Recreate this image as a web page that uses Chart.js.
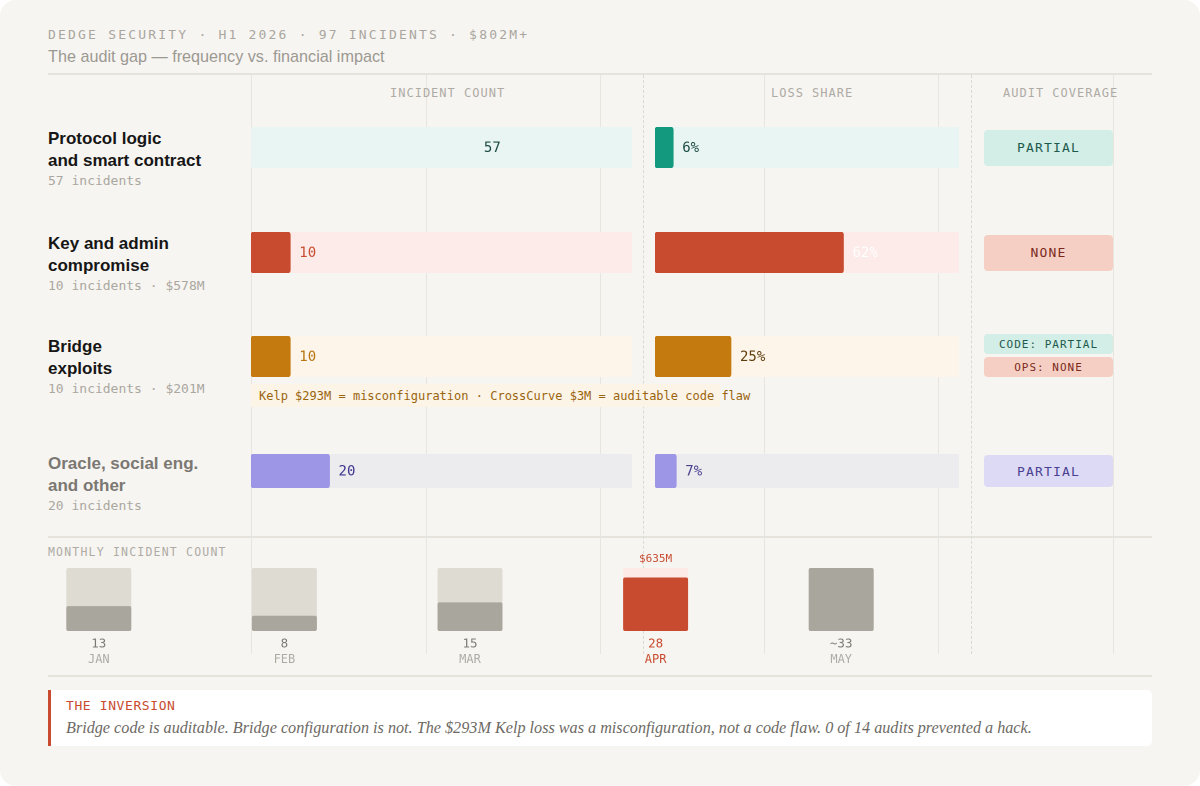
<!DOCTYPE html>
<html>
<head>
<meta charset="utf-8">
<script src="https://cdn.jsdelivr.net/npm/chart.js@4.4.1/dist/chart.umd.min.js"></script>
<style>
  html,body{margin:0;padding:0;background:#ffffff;width:1200px;height:786px;overflow:hidden;}
  #card{position:absolute;left:0;top:0;width:1200px;height:786px;background:#f7f5f1;border-radius:16px;overflow:hidden;}
  .abs{position:absolute;}
  .mono{font-family:"DejaVu Sans Mono",monospace;}
  .sans{font-family:"Liberation Sans",Arial,sans-serif;}
  .hline{position:absolute;height:2px;background:#e6e3dd;}
  .vline{position:absolute;width:1px;background:#e8e5df;}
  .vdash{position:absolute;width:0;border-left:1px dashed #dcd9d3;}
  .rowlab{position:absolute;left:48px;font-family:"Liberation Sans",Arial,sans-serif;font-weight:bold;font-size:17px;line-height:22px;color:#161616;white-space:nowrap;}
  .rowsub{position:absolute;left:48px;font-family:"DejaVu Sans Mono",monospace;font-size:13px;line-height:16px;color:#aaa79f;white-space:nowrap;}
  .colhead{position:absolute;top:86px;font-family:"DejaVu Sans Mono",monospace;font-size:12px;letter-spacing:1px;color:#aeaba5;white-space:nowrap;}
  .badge{position:absolute;left:984px;width:129px;border-radius:4px;display:flex;align-items:center;justify-content:center;font-family:"DejaVu Sans Mono",monospace;letter-spacing:1.2px;}
  canvas{position:absolute;}
</style>
</head>
<body>
<div id="card">
  <div class="abs mono" style="left:48px;top:27px;font-size:13px;letter-spacing:2.2px;color:#a9a6a0;white-space:nowrap;">DEDGE SECURITY · H1 2026 · 97 INCIDENTS · $802M+</div>
  <div class="abs sans" style="left:48px;top:47px;font-size:16.2px;color:#9c9993;white-space:nowrap;">The audit gap — frequency vs. financial impact</div>

  <div class="hline" style="left:48px;top:73px;width:1104px;"></div>
  <div class="hline" style="left:48px;top:536px;width:1104px;"></div>
  <div class="hline" style="left:48px;top:675px;width:1104px;"></div>

  <div class="vline" style="left:251px;top:75px;height:579px;"></div>
  <div class="vline" style="left:426px;top:75px;height:579px;"></div>
  <div class="vline" style="left:600px;top:75px;height:579px;"></div>
  <div class="vline" style="left:764px;top:75px;height:579px;"></div>
  <div class="vline" style="left:938px;top:75px;height:579px;"></div>
  <div class="vline" style="left:1113px;top:75px;height:579px;"></div>
  <div class="vdash" style="left:643px;top:75px;height:579px;"></div>
  <div class="vdash" style="left:971px;top:75px;height:579px;"></div>

  <div class="colhead" style="left:390px;">INCIDENT COUNT</div>
  <div class="colhead" style="left:771px;">LOSS SHARE</div>
  <div class="colhead" style="left:1003px;">AUDIT COVERAGE</div>

  <div id="rows"></div>

  <div class="abs" style="left:251px;top:384px;width:469px;height:23px;background:#fcf4e6;"></div>
  <div class="abs mono" style="left:259px;top:388px;font-size:12px;line-height:16px;color:#9a640f;white-space:nowrap;">Kelp $293M = misconfiguration · CrossCurve $3M = auditable code flaw</div>

  <div class="abs mono" style="left:48px;top:545px;font-size:11.5px;letter-spacing:1.2px;color:#aeaba5;white-space:nowrap;">MONTHLY INCIDENT COUNT</div>

  <div class="abs" style="left:48px;top:690px;width:1104px;height:56px;background:#ffffff;border-radius:5px;"></div>
  <div class="abs" style="left:48px;top:690px;width:3px;height:56px;background:#c84b2f;"></div>
  <div class="abs mono" style="left:66px;top:698px;font-size:13px;letter-spacing:0.6px;color:#c84b2f;white-space:nowrap;">THE INVERSION</div>
  <div class="abs" style="left:66px;top:719px;font-family:'Liberation Serif',serif;font-style:italic;font-size:16.2px;color:#6d6a64;white-space:nowrap;">Bridge code is auditable. Bridge configuration is not. The $293M Kelp loss was a misconfiguration, not a code flaw. 0 of 14 audits prevented a hack.</div>

  <canvas id="monthly" width="928" height="120" style="left:6px;top:548px;width:928px;height:120px;"></canvas>
</div>

<script>
// ---------- DATA ----------
const categories = [
  ["Protocol logic", "and smart contract"],
  ["Key and admin", "compromise"],
  ["Bridge", "exploits"],
  ["Oracle, social eng.", "and other"]
];
const categorySubLabels = ["57 incidents", "10 incidents · $578M", "10 incidents · $201M", "20 incidents"];
const incidentCounts = [57, 10, 10, 20];
const totalIncidents = 97;
const lossShares = [6, 62, 25, 7];
const lossShareLabels = ["6%", "62%", "25%", "7%"];
const auditCoverage = [["PARTIAL"], ["NONE"], ["CODE: PARTIAL", "OPS: NONE"], ["PARTIAL"]];

const months = ["JAN", "FEB", "MAR", "APR", "MAY"];
const monthlyCounts = [13, 8, 15, 28, 33];
const monthlyCountLabels = ["13", "8", "15", "28", "~33"];
const monthlyMax = 33;
const aprilLoss = "$635M";

// ---------- STYLE / LAYOUT ----------
const rowBarTop = [127, 232, 336, 454];
const rowBarHeight = [41, 41, 41, 34];
const rowLabelTop = [128, 233, 336, 453];
const rowLabelColor = ["#161616", "#161616", "#161616", "#7b7873"];
const barColor = ["#e8f5f2", "#c84b2f", "#c47a0e", "#9d95e6"];
const lossBarColor = ["#12997e", "#c84b2f", "#c47a0e", "#9d95e6"];
const trackColor = ["#e8f5f2", "#fcebe8", "#fdf5e9", "#ecebee"];
const countLabelColor = ["#1c4b43", "#c84b2f", "#b8740e", "#3c3590"];
const lossLabelColor = ["#1c4b43", "#ffffff", "#5e3d0e", "#4a4290"];
const badgeStyles = {
  "PARTIAL": ["#d3eee6", "#1d5a4d"],
  "NONE": ["#f6cfc4", "#7a2a1c"],
  "CODE: PARTIAL": ["#d3eee6", "#1d5a4d"],
  "OPS: NONE": ["#f6cfc4", "#7a2a1c"]
};
const row4BadgeStyle = ["#dddaf6", "#4a4290"];
const MONO = '"DejaVu Sans Mono", monospace';

const rowsEl = document.getElementById('rows');
const card = document.getElementById('card');

function valueLabelPlugin(text, color, size) {
  return {
    id: 'valLabel',
    afterDatasetsDraw(chart) {
      const meta = chart.getDatasetMeta(1);
      const bar = meta.data[0];
      const ctx = chart.ctx;
      ctx.save();
      ctx.font = size + 'px ' + MONO;
      ctx.fillStyle = color;
      ctx.textBaseline = 'middle';
      ctx.textAlign = 'left';
      ctx.fillText(text, bar.x + 9, bar.y + 1);
      ctx.restore();
    }
  };
}

function rowBar(left, width, top, height, value, max, fill, track, label, labelColor) {
  const c = document.createElement('canvas');
  c.width = width; c.height = height;
  c.style.left = left + 'px'; c.style.top = top + 'px';
  c.style.width = width + 'px'; c.style.height = height + 'px';
  card.appendChild(c);
  new Chart(c, {
    type: 'bar',
    data: {
      labels: ['v'],
      datasets: [
        { data: [max], backgroundColor: track, borderRadius: 3, borderSkipped: false, barPercentage: 1, categoryPercentage: 1, grouped: false, order: 2 },
        { data: [value], backgroundColor: fill, borderRadius: 3, borderSkipped: false, barPercentage: 1, categoryPercentage: 1, grouped: false, order: 1 }
      ]
    },
    options: {
      indexAxis: 'y', responsive: false, animation: false, devicePixelRatio: 2,
      layout: { padding: 0 },
      scales: { x: { display: false, min: 0, max: max }, y: { display: false } },
      plugins: { legend: { display: false }, tooltip: { enabled: false } }
    },
    plugins: [valueLabelPlugin(label, labelColor, 14)]
  });
}

categories.forEach((lines, i) => {
  const l = document.createElement('div');
  l.className = 'rowlab';
  l.style.top = rowLabelTop[i] + 'px';
  l.style.color = rowLabelColor[i];
  l.innerHTML = lines.join('<br>');
  rowsEl.appendChild(l);
  const s = document.createElement('div');
  s.className = 'rowsub';
  s.style.top = (rowLabelTop[i] + 45) + 'px';
  s.textContent = categorySubLabels[i];
  rowsEl.appendChild(s);

  rowBar(251, 381, rowBarTop[i], rowBarHeight[i], incidentCounts[i], totalIncidents, barColor[i], trackColor[i], String(incidentCounts[i]), countLabelColor[i]);
  rowBar(655, 304, rowBarTop[i], rowBarHeight[i], lossShares[i], 100, lossBarColor[i], trackColor[i], lossShareLabels[i], lossLabelColor[i]);

  const badges = auditCoverage[i];
  if (badges.length === 1) {
    const b = document.createElement('div');
    b.className = 'badge';
    const st = i === 3 ? row4BadgeStyle : badgeStyles[badges[0]];
    b.style.background = st[0]; b.style.color = st[1];
    const h = i === 3 ? rowBarHeight[i] - 2 : rowBarHeight[i] - 5;
    b.style.top = (rowBarTop[i] + (rowBarHeight[i] - h) / 2) + 'px';
    b.style.height = h + 'px';
    b.style.fontSize = '13px';
    b.textContent = badges[0];
    rowsEl.appendChild(b);
  } else {
    badges.forEach((t, k) => {
      const b = document.createElement('div');
      b.className = 'badge';
      const st = badgeStyles[t];
      b.style.background = st[0]; b.style.color = st[1];
      b.style.top = (334 + k * 23) + 'px';
      b.style.height = '20px';
      b.style.fontSize = '11px';
      b.style.letterSpacing = '1px';
      b.textContent = t;
      rowsEl.appendChild(b);
    });
  }
});

// ---------- MONTHLY ----------
const monthTrackColors = months.map(m => m === 'APR' ? '#fde9e5' : '#dedbd3');
const monthFillColors = months.map(m => m === 'APR' ? '#c84b2f' : '#a9a69d');
const monthTextColors = months.map(m => m === 'APR' ? '#c84b2f' : '#7d7a74');
const monthNameColors = months.map(m => m === 'APR' ? '#c84b2f' : '#aeaba5');

const monthlyLabels = {
  id: 'monthlyLabels',
  afterDatasetsDraw(chart) {
    const meta = chart.getDatasetMeta(1);
    const trackMeta = chart.getDatasetMeta(0);
    const ctx = chart.ctx;
    const base = chart.chartArea.bottom;
    ctx.save();
    ctx.textAlign = 'center';
    ctx.textBaseline = 'middle';
    meta.data.forEach((bar, i) => {
      ctx.font = '12.5px ' + MONO;
      ctx.fillStyle = monthTextColors[i];
      ctx.fillText(monthlyCountLabels[i], bar.x, base + 13);
      ctx.font = '12px ' + MONO;
      ctx.fillStyle = monthNameColors[i];
      ctx.fillText(months[i], bar.x, base + 29);
      if (months[i] === 'APR') {
        ctx.font = '11px ' + MONO;
        ctx.fillStyle = '#c84b2f';
        ctx.fillText(aprilLoss, bar.x, trackMeta.data[i].y - 9);
      }
    });
    ctx.restore();
  }
};

new Chart(document.getElementById('monthly'), {
  type: 'bar',
  data: {
    labels: months,
    datasets: [
      { data: months.map(() => monthlyMax), backgroundColor: monthTrackColors, borderRadius: 2, borderSkipped: false, barPercentage: 0.35, categoryPercentage: 1, grouped: false, order: 2 },
      { data: monthlyCounts, backgroundColor: monthFillColors, borderRadius: 2, borderSkipped: false, barPercentage: 0.35, categoryPercentage: 1, grouped: false, order: 1 }
    ]
  },
  options: {
    responsive: false, animation: false, devicePixelRatio: 2,
    layout: { padding: { top: 20, bottom: 37, left: 0, right: 0 } },
    scales: { x: { display: false }, y: { display: false, min: 0, max: monthlyMax } },
    plugins: { legend: { display: false }, tooltip: { enabled: false } }
  },
  plugins: [monthlyLabels]
});
</script>
</body>
</html>
